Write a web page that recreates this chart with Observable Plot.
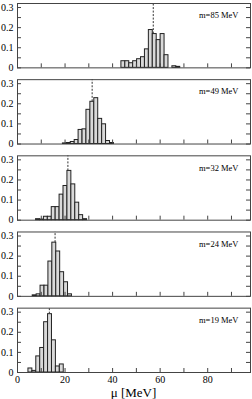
<!DOCTYPE html>
<html><head><meta charset="utf-8">
<script src="https://cdn.jsdelivr.net/npm/d3@7"></script>
<script src="https://cdn.jsdelivr.net/npm/@observablehq/plot@0.6"></script>
<style>
body{margin:0;background:#fff;}
#xlabel{font-family:"Liberation Serif",serif;font-size:13px;color:#000;text-align:center;padding-left:17px;padding-right:2px;width:233px;line-height:13px;}
</style>
</head><body><div id="chart"></div><div id="xlabel">μ [MeV]</div>
<script>
const masses = [85, 49, 32, 24, 19];
const panelLabels = ["m=85 MeV", "m=49 MeV", "m=32 MeV", "m=24 MeV", "m=19 MeV"];
const binWidth = 1.65;
const binStart = [43.7, 19.1, 7.8, 6.4, 4.6];
const values85 = [0.033, 0.033, 0.023, 0.033, 0.043, 0.053, 0.092, 0.188, 0.168, 0.138, 0.168, 0.063, 0, 0.008, 0.005];
const values49 = [0.003, 0.005, 0.01, 0.02, 0.07, 0.073, 0.17, 0.21, 0.228, 0.125, 0.098, 0.015, 0.005];
const values32 = [0.005, 0.003, 0.017, 0.017, 0.065, 0.065, 0.127, 0.17, 0.245, 0.178, 0.087, 0.025, 0.005];
const values24 = [0.005, 0.01, 0.053, 0.053, 0.173, 0.267, 0.223, 0.12, 0.07, 0.01];
const values19 = [0.02, 0.008, 0.08, 0.122, 0.25, 0.29, 0.16, 0.03, 0.04];
const peakMu = [57.1, 31.4, 21.2, 15.8, 13.4];
const yMajorTicks = [0, 0.1, 0.2, 0.3];
const yMinorTicks = [0, 0.05, 0.1, 0.15, 0.2, 0.25, 0.3];
const xMajorTicks = [0, 20, 40, 60, 80];
const xMinorTicks = [0, 10, 20, 30, 40, 50, 60, 70, 80, 90];
const yTop = 0.32;

const allValues = [values85, values49, values32, values24, values19];
const bars = [];
allValues.forEach((vals, i) => {
  vals.forEach((v, j) => {
    if (v > 0) bars.push({m: masses[i], x1: binStart[i] + j * binWidth, x2: binStart[i] + (j + 1) * binWidth, y: v});
  });
});
const peaks = masses.map((m, i) => {
  const j = Math.floor((peakMu[i] - binStart[i]) / binWidth);
  return {m, x: peakMu[i], y1: allValues[i][j] || 0, y2: yTop};
});
const panels = masses.map((m, i) => ({m, label: panelLabels[i]}));

const W = 252, H = 386, mL = 17, mR = 2, mT = 3, mB = 14;
const frameW = W - mL - mR;
const padIn = 0.155;
const step = (H - mT - mB) / (masses.length - padIn);
const bandH = step * (1 - padIn);

const chart = Plot.plot({
  width: W, height: H,
  marginLeft: mL, marginRight: mR, marginTop: mT, marginBottom: mB,
  style: {fontFamily: "Liberation Serif, serif", fontSize: "10px", color: "#000", background: "#fff"},
  x: {domain: [0, 98]},
  y: {domain: [0, yTop]},
  fy: {domain: masses, axis: null, paddingInner: padIn, paddingOuter: 0, round: false},
  marks: [
    Plot.rectY(bars, {x1: "x1", x2: "x2", y: "y", fy: "m", fill: "#d9d9d9", stroke: "#222", strokeWidth: 1}),
    Plot.ruleX(peaks, {x: "x", y1: "y1", y2: "y2", fy: "m", stroke: "#333", strokeDasharray: "2,1.5", strokeWidth: 1}),
    Plot.tickY(yMinorTicks, {y: d => d, insetRight: frameW - 4, stroke: "#444"}),
    Plot.tickY(yMinorTicks, {y: d => d, insetLeft: frameW - 4, stroke: "#444"}),
    Plot.tickX(xMinorTicks, {x: d => d, insetTop: bandH - 4, stroke: "#444"}),
    Plot.frame({stroke: "#444"}),
    Plot.text(panels, {fy: "m", text: "label", frameAnchor: "top-right", lineAnchor: "middle", textAnchor: "end", dx: -12, dy: 12, fontSize: 8.5}),
    Plot.axisY({ticks: yMajorTicks, tickSize: 0, tickPadding: 4, label: null, tickFormat: d => d === 0 ? "0" : d.toFixed(1)}),
    Plot.axisX({ticks: xMajorTicks, tickSize: 0, tickPadding: 3, label: null})
  ]
});
document.getElementById("chart").appendChild(chart);
</script>
</body></html>
